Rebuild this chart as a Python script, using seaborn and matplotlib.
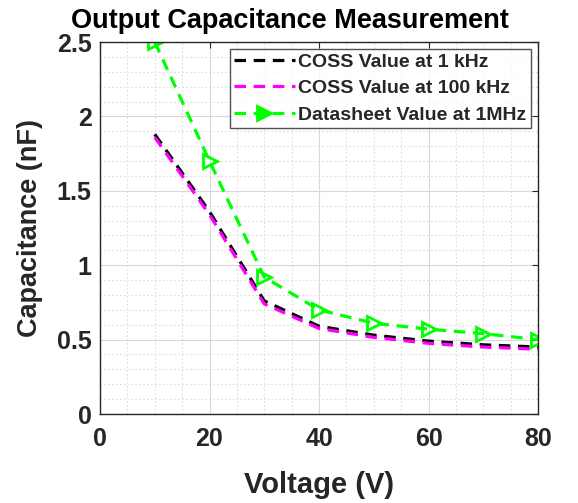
import matplotlib
matplotlib.use("Agg")
import matplotlib.pyplot as plt
from matplotlib.ticker import MultipleLocator
import seaborn as sns
import pandas as pd

voltage = [10, 20, 30, 40, 50, 60, 70, 80]
coss_1k = [1.88, 1.36, 0.76, 0.59, 0.53, 0.49, 0.465, 0.45]
coss_100k = [1.86, 1.34, 0.74, 0.575, 0.515, 0.475, 0.45, 0.435]
datasheet_1m = [2.5, 1.7, 0.92, 0.70, 0.61, 0.57, 0.54, 0.50]

labels = ["COSS Value at 1 kHz", "COSS Value at 100 kHz", "Datasheet Value at 1MHz"]
title = "Output Capacitance Measurement"
yticks = [0, 0.5, 1, 1.5, 2, 2.5]
ytick_labels = ["0", "0.5", "1", "1.5", "2", "2.5"]

sns.set_style("white")
plt.rcParams['font.family'] = ['Liberation Sans', 'DejaVu Sans']
plt.rcParams['font.weight'] = 'bold'

W, H = 578, 503
fig = plt.figure(figsize=(W / 100, H / 100), dpi=100)
ax = fig.add_axes([100 / W, 1 - 414 / H, 438 / W, 372 / H])

df = pd.DataFrame({"V": voltage, "a": coss_1k, "b": coss_100k, "c": datasheet_1m})
sns.lineplot(data=df, x="V", y="a", ax=ax, color="black", linestyle="--", lw=2.3,
             label=labels[0], dashes=False)
sns.lineplot(data=df, x="V", y="b", ax=ax, color="#ff00ff", linestyle="--", lw=2.3,
             label=labels[1], dashes=False)
sns.lineplot(data=df, x="V", y="c", ax=ax, color="#00ff00", linestyle="--", lw=2.3,
             marker=">", markersize=10, markerfacecolor="none", markeredgecolor="#00ff00",
             markeredgewidth=2.0, label=labels[2], dashes=False)
for l in ax.lines:
    l.set_dashes([3.6, 2.4])

ax.set_xlim(0, 80)
ax.set_ylim(0, 2.5)
ax.xaxis.set_major_locator(MultipleLocator(20))
ax.xaxis.set_minor_locator(MultipleLocator(5))
ax.yaxis.set_minor_locator(MultipleLocator(0.1))
ax.set_yticks(yticks)
ax.set_yticklabels(ytick_labels)
ax.grid(which="major", color="#d9d9d9", lw=0.8, ls="-")
ax.grid(which="minor", color="#dcdcdc", lw=0.8, ls=(0, (1.5, 2)))
ax.set_axisbelow(True)
for s in ax.spines.values():
    s.set_visible(True)
    s.set_color("#262626")
    s.set_linewidth(1.0)
ax.tick_params(axis="both", which="major", labelsize=18, direction="in", length=4,
               top=True, right=True, color="#262626")
ax.tick_params(axis="x", which="major", pad=9)
ax.tick_params(axis="y", which="major", pad=6)
ax.tick_params(axis="both", which="minor", length=0)
for t in ax.get_xticklabels() + ax.get_yticklabels():
    t.set_fontweight("bold")
    t.set_color("#262626")

ax.set_xlabel("Voltage (V)", fontsize=21, fontweight="bold", color="#262626")
ax.set_ylabel("Capacitance (nF)", fontsize=19.5, fontweight="bold", color="#262626")
ax.xaxis.set_label_coords(0.5, -0.152)
ax.yaxis.set_label_coords(-0.13, 0.5)
fig.text(290 / W, 1 - 28 / H, title, fontsize=19.5, fontweight="bold",
         ha="center", va="baseline", color="black")

leg = ax.legend(loc="upper right", bbox_to_anchor=(1.0, 1.0), fontsize=14,
                frameon=True, fancybox=False, handlelength=3.1, borderpad=0.22,
                labelspacing=0.45, handletextpad=0.2, borderaxespad=0.36)
leg.get_frame().set_edgecolor("#262626")
leg.get_frame().set_linewidth(1.0)
leg.legend_handles[2].set_markerfacecolor("#00ff00")
for t in leg.get_texts():
    t.set_fontweight("bold")
    t.set_color("#262626")

fig.savefig("out.png", dpi=100)
